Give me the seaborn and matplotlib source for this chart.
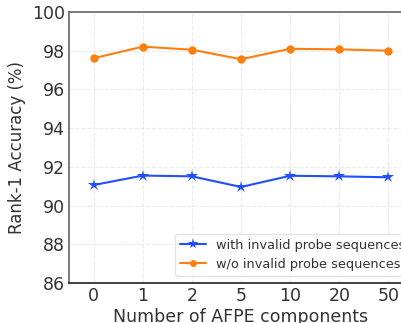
import matplotlib
matplotlib.use("Agg")
import matplotlib.pyplot as plt
import seaborn as sns
import pandas as pd

components = ["0", "1", "2", "5", "10", "20", "50"]
with_invalid = [91.06, 91.55, 91.51, 90.96, 91.54, 91.51, 91.46]
without_invalid = [97.61, 98.21, 98.05, 97.56, 98.10, 98.07, 98.00]
series_names = ["with invalid probe sequences", "w/o invalid probe sequences"]
yticks = [86, 88, 90, 92, 94, 96, 98, 100]

sns.set_theme(style="whitegrid")
plt.rcParams['font.family'] = ['DejaVu Sans']

rows = []
for name, vals in zip(series_names, [with_invalid, without_invalid]):
    for i, v in enumerate(vals):
        rows.append({"pos": i, "acc": v, "series": name})
df = pd.DataFrame(rows)

fig = plt.figure(figsize=(4.02, 3.23), dpi=100)
ax = fig.add_axes([69/402, 1 - 283/323, (413 - 69)/402, (283 - 12)/323])

palette = {series_names[0]: "#1f4fff", series_names[1]: "#ff7f0e"}
markers = {series_names[0]: "*", series_names[1]: "o"}
sns.lineplot(data=df, x="pos", y="acc", hue="series", style="series",
             palette=palette, markers=markers, dashes=False, ax=ax,
             linewidth=1.5, markeredgewidth=0)
for line in ax.get_lines():
    if line.get_marker() == "*":
        line.set_markersize(9)
    elif line.get_marker() == "o":
        line.set_markersize(6)

ax.set_xlim(-0.5, 6.5)
ax.set_ylim(86, 100)
ax.set_xticks(range(len(components)))
ax.set_xticklabels(components)
ax.set_yticks(yticks)
ax.tick_params(axis="both", labelsize=12.5, colors="#333333", length=0, pad=3)
ax.set_xlabel("Number of AFPE components", fontsize=12.5, color="#333333", labelpad=2)
ax.set_ylabel("Rank-1 Accuracy (%)", fontsize=12, color="#333333", labelpad=4)
ax.grid(True, linestyle="--", color="#ebebeb", linewidth=0.8)
for s in ["left", "top", "right"]:
    ax.spines[s].set_color("#666666")
    ax.spines[s].set_linewidth(1.2)
ax.spines["bottom"].set_color("#222222")
ax.spines["bottom"].set_linewidth(1.2)

leg = ax.legend(loc="lower left", bbox_to_anchor=(175/402, 1 - 276/323),
                bbox_transform=fig.transFigure, fontsize=9.3, frameon=True,
                borderpad=0.4, handlelength=2.0, handletextpad=0.8,
                labelspacing=0.45, borderaxespad=0)
leg.get_frame().set_edgecolor("#dddddd")
for t in leg.get_texts():
    t.set_color("#333333")
for h in leg.legend_handles:
    if h.get_marker() == "*":
        h.set_markersize(8)
    elif h.get_marker() == "o":
        h.set_markersize(5)

fig.savefig("out.png", dpi=100)
